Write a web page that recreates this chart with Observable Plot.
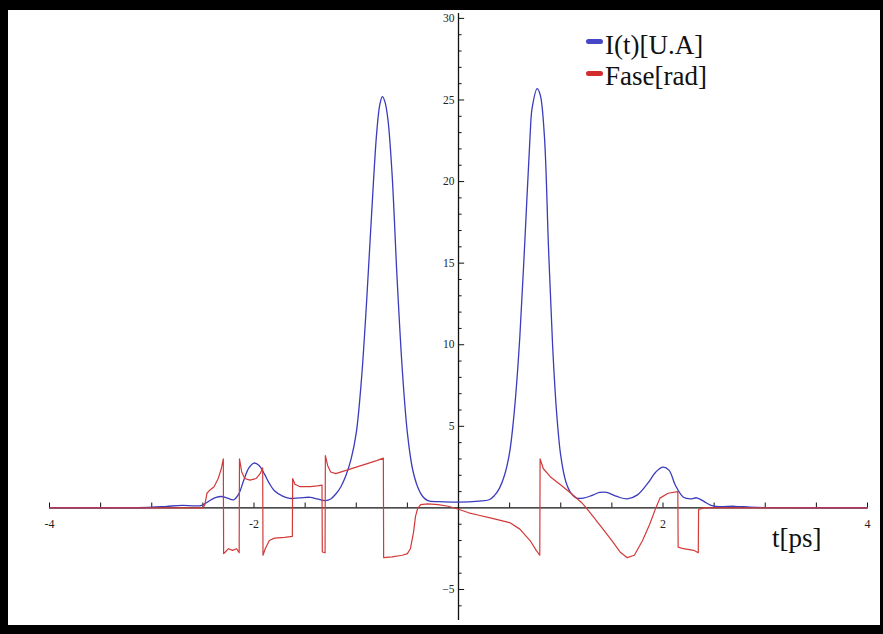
<!DOCTYPE html>
<html>
<head>
<meta charset="utf-8">
<script src="https://cdn.jsdelivr.net/npm/d3@7"></script>
<script src="https://cdn.jsdelivr.net/npm/@observablehq/plot@0.6"></script>
<style>
  body { margin: 0; background: #fff; }
  #wrap { position: relative; width: 883px; height: 634px; overflow: hidden; font-family: "Liberation Serif", "DejaVu Serif", serif; background: #fff; }
  #chart { position: absolute; left: 0; top: 0; }
  #frame { position: absolute; left: 0; top: 0; width: 883px; height: 634px; box-sizing: border-box; border-style: solid; border-color: #000; border-width: 10px 3px 9px 8px; pointer-events: none; }
  .sw { position: absolute; left: 586px; width: 17px; height: 5px; border-radius: 2.5px; }
  .lt { position: absolute; left: 605px; font-size: 27px; line-height: 27px; color: #111; white-space: nowrap; }
  #xlab { position: absolute; left: 772px; top: 525px; font-size: 27px; line-height: 27px; color: #111; white-space: nowrap; }
</style>
</head>
<body>
<div id="wrap">
  <div id="chart"></div>
  <div class="sw" style="top:39px;background:#4646c8"></div>
  <div class="lt" style="top:32px">I(t)[U.A]</div>
  <div class="sw" style="top:71px;background:#d22c2c"></div>
  <div class="lt" style="top:63px">Fase[rad]</div>
  <div id="xlab">t[ps]</div>
  <div id="frame"></div>
</div>
<script>
// ---- data ----
const seriesNames = ["I(t)[U.A]", "Fase[rad]"];

const intensityT = [-4, -3.5, -3.2, -3.0, -2.85, -2.7, -2.6, -2.52, -2.47, -2.42, -2.37, -2.32, -2.26, -2.2, -2.15, -2.1, -2.05, -2.0, -1.95, -1.9, -1.85, -1.8, -1.72, -1.65, -1.55, -1.45, -1.38, -1.3, -1.25, -1.2, -1.15, -1.1, -1.05, -1.0, -0.95, -0.9, -0.85, -0.8, -0.77, -0.745, -0.72, -0.69, -0.65, -0.6, -0.55, -0.5, -0.45, -0.4, -0.35, -0.3, -0.2, 0, 0.2, 0.3, 0.35, 0.4, 0.45, 0.5, 0.55, 0.6, 0.65, 0.7, 0.72, 0.77, 0.8, 0.84, 0.88, 0.92, 0.96, 1.0, 1.05, 1.1, 1.15, 1.22, 1.3, 1.38, 1.45, 1.55, 1.65, 1.75, 1.85, 1.93, 2.0, 2.06, 2.12, 2.2, 2.27, 2.33, 2.4, 2.47, 2.55, 2.7, 2.85, 3.0, 3.5, 4];
const intensityV = [0, 0, 0.01, 0.04, 0.1, 0.15, 0.13, 0.14, 0.3, 0.5, 0.65, 0.7, 0.6, 0.5, 0.85, 1.7, 2.45, 2.75, 2.6, 2.1, 1.5, 1.05, 0.72, 0.58, 0.62, 0.65, 0.55, 0.45, 0.55, 0.85, 1.3, 2.0, 3.0, 4.6, 7.8, 12.5, 18.0, 23.0, 24.7, 25.2, 24.9, 23.8, 20.5, 14.0, 8.5, 4.6, 2.4, 1.3, 0.7, 0.45, 0.38, 0.36, 0.42, 0.5, 0.75, 1.2, 2.0, 3.4, 6.2, 10.5, 16.5, 22.8, 24.5, 25.7, 25.3, 22.8, 16.0, 10.0, 5.8, 3.2, 1.6, 0.9, 0.62, 0.6, 0.75, 0.95, 0.95, 0.7, 0.55, 0.8, 1.5, 2.2, 2.5, 2.3, 1.4, 0.65, 0.55, 0.62, 0.4, 0.15, 0.08, 0.1, 0.05, 0.02, 0, 0];

const phaseT = [-4, -2.5, -2.48, -2.46, -2.43, -2.39, -2.35, -2.32, -2.30, -2.297, -2.28, -2.25, -2.21, -2.17, -2.145, -2.142, -2.12, -2.09, -2.04, -1.98, -1.94, -1.915, -1.912, -1.89, -1.85, -1.8, -1.7, -1.625, -1.622, -1.6, -1.55, -1.45, -1.38, -1.335, -1.332, -1.305, -1.302, -1.28, -1.25, -1.2, -1.1, -1.0, -0.9, -0.8, -0.735, -0.732, -0.65, -0.55, -0.5, -0.47, -0.44, -0.42, -0.4, -0.37, -0.3, -0.2, -0.1, 0, 0.1, 0.2, 0.3, 0.4, 0.5, 0.6, 0.7, 0.76, 0.795, 0.798, 0.83, 0.9, 1.0, 1.1, 1.2, 1.25, 1.3, 1.4, 1.5, 1.58, 1.65, 1.72, 1.8, 1.87, 1.93, 1.97, 2.05, 2.145, 2.148, 2.2, 2.3, 2.345, 2.348, 2.4, 2.45, 4];
const phaseV = [0, 0, 0.2, 0.9, 1.1, 1.3, 1.8, 2.4, 3.0, -2.8, -2.7, -2.5, -2.6, -2.5, -2.75, 3.0, 2.2, 1.8, 1.7, 1.8, 2.1, 2.45, -2.9, -2.5, -2.0, -1.85, -1.8, -1.75, 1.8, 1.45, 1.3, 1.3, 1.35, 1.4, -2.7, -2.75, 3.2, 2.6, 2.2, 2.1, 2.3, 2.5, 2.7, 2.9, 3.05, -3.05, -3.0, -2.9, -2.8, -2.5, -1.5, -0.5, -0.05, 0.2, 0.25, 0.2, 0.1, -0.08, -0.3, -0.45, -0.6, -0.75, -0.9, -1.3, -2.0, -2.6, -2.9, 3.0, 2.4, 1.9, 1.4, 0.9, 0.35, 0.0, -0.4, -1.2, -2.0, -2.7, -3.05, -2.9, -2.0, -1.0, 0.0, 0.6, 0.9, 1.0, -2.4, -2.5, -2.6, -2.75, -0.1, 0.0, 0, 0];

const xTicks = [-4, -3.5, -3, -2.5, -2, -1.5, -1, -0.5, 0.5, 1, 1.5, 2, 2.5, 3, 3.5, 4];
const xTickLabels = [-4, -2, 2, 4];
const yMajorTicks = [-5, 5, 10, 15, 20, 25, 30];
const yMinorTicks = [-6, -4, -3, -2, -1, 1, 2, 3, 4, 6, 7, 8, 9, 11, 12, 13, 14, 16, 17, 18, 19, 21, 22, 23, 24, 26, 27, 28, 29];

// ---- build tables ----
const intensity = intensityT.map((t, i) => ({t, v: intensityV[i]}));
const phase = phaseT.map((t, i) => ({t, v: phaseV[i]}));

const font = "Liberation Serif, DejaVu Serif, serif";

const chart = Plot.plot({
  width: 883,
  height: 634,
  marginLeft: 49,
  marginRight: 16,
  marginTop: 13,
  marginBottom: 14,
  x: {domain: [-4, 4], axis: null},
  y: {domain: [-6.9, 30.3], axis: null},
  style: {background: "transparent", fontFamily: font},
  marks: [
    // axes through the origin
    Plot.ruleY([0], {stroke: "#111", strokeWidth: 1.3}),
    Plot.ruleX([0], {stroke: "#111", strokeWidth: 1.3}),
    Plot.ruleX(xTicks, {x: d => d, y1: () => 0, y2: () => 0.3, stroke: "#111", strokeWidth: 1}),
    Plot.ruleY(yMajorTicks, {y: d => d, x1: () => 0, x2: () => 0.06, stroke: "#111", strokeWidth: 1}),
    Plot.ruleY(yMinorTicks, {y: d => d, x1: () => 0, x2: () => 0.035, stroke: "#111", strokeWidth: 1}),
    Plot.text(xTickLabels, {x: d => d, y: () => 0, text: d => (d < 0 ? "-" + Math.abs(d) : String(d)), dy: 16, fontSize: 12, fill: "#222"}),
    Plot.text(yMajorTicks, {x: () => 0, y: d => d, text: d => (d < 0 ? "\u2212" + Math.abs(d) : String(d)), dx: -4, textAnchor: "end", fontSize: 11.5, fill: "#222"}),
    // curves
    Plot.line(intensity, {x: "t", y: "v", stroke: "#3b3bbd", strokeWidth: 1.3, curve: "catmull-rom"}),
    Plot.line(phase, {x: "t", y: "v", stroke: "#d23a3a", strokeWidth: 1.2, curve: "linear"})
  ]
});

document.getElementById("chart").appendChild(chart);
</script>
</body>
</html>
